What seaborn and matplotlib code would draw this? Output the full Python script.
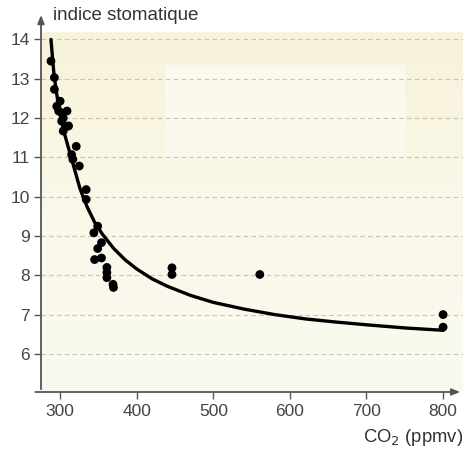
import numpy as np
import pandas as pd
import matplotlib
matplotlib.use("Agg")
import matplotlib.pyplot as plt
import seaborn as sns

# measured points (CO2 ppmv, stomatal index)
co2 = [288, 292.5, 292.5, 295.6, 300, 298, 302, 309, 304, 302, 309, 304, 311,
       321, 315, 316.6, 325, 334, 334, 349, 344, 354, 349, 354, 345,
       361, 361, 361, 369, 369.6, 446, 446, 560.7, 800, 800]
indice = [13.45, 13.03, 12.73, 12.30, 12.43, 12.18, 12.13, 12.18, 12.0, 11.92, 11.79, 11.67, 11.8,
          11.28, 11.07, 10.95, 10.78, 10.18, 9.93, 9.25, 9.08, 8.83, 8.68, 8.44, 8.40,
          8.2, 8.07, 7.94, 7.77, 7.69, 8.19, 8.02, 8.02, 7.0, 6.68]

# fitted curve
curve_x = [288, 292, 296, 300, 305, 310, 318, 326, 335, 345, 355, 370, 385, 400,
           420, 440, 470, 500, 540, 580, 620, 660, 700, 750, 800]
curve_y = [14.0, 13.1, 12.55, 12.1, 11.65, 11.3, 10.75, 10.2, 9.75, 9.35, 9.05, 8.68, 8.39, 8.16,
           7.91, 7.72, 7.49, 7.31, 7.14, 7.0, 6.89, 6.81, 6.74, 6.66, 6.6]

x_ticks = [300, 400, 500, 600, 700, 800]
y_ticks = [6, 7, 8, 9, 10, 11, 12, 13, 14]

pts = pd.DataFrame({"co2": co2, "indice": indice})
fit = pd.DataFrame({"co2": curve_x, "indice": curve_y})

sns.set_style("white")
plt.rcParams['font.family'] = ['Liberation Sans', 'DejaVu Sans']

fig = plt.figure(figsize=(4.66, 4.51), dpi=100)
ax = fig.add_axes([41 / 466, 59 / 451, 422 / 466, 360 / 451])
xmin, xmax = 275, 826
ymin, ymax = 5.03, 14.19
ax.set_xlim(xmin, xmax)
ax.set_ylim(ymin, ymax)

# cream gradient background (slightly darker at the top)
grad = np.linspace(0, 1, 100).reshape(-1, 1)
cmap = matplotlib.colors.LinearSegmentedColormap.from_list("cream", ["#f7f2da", "#faf8e9", "#fbfaf0"])
ax.imshow(grad, extent=[xmin, xmax, ymin, ymax], aspect="auto", cmap=cmap, zorder=0)
ax.add_patch(plt.Rectangle((437, 10.95), 313, 2.4, color="#fbf9ed", lw=0, zorder=0.5))

for yv in y_ticks:
    ax.axhline(yv, color="#c9c4b2", lw=0.8, dashes=(4, 3), zorder=1)

sns.lineplot(data=fit, x="co2", y="indice", color="black", lw=2.4, ax=ax, zorder=3)
sns.scatterplot(data=pts, x="co2", y="indice", color="black", s=40, edgecolor="none", ax=ax, zorder=4)

for s in ax.spines.values():
    s.set_visible(False)
ax.annotate("", xy=(0, 1.055), xytext=(0, 0), xycoords="axes fraction",
            arrowprops=dict(arrowstyle="-|>,head_length=0.5,head_width=0.2", color="#555555", lw=1.3),
            annotation_clip=False)
ax.annotate("", xy=(1.0, 0), xytext=(-0.02, 0), xycoords="axes fraction",
            arrowprops=dict(arrowstyle="-|>,head_length=0.5,head_width=0.2", color="#555555", lw=1.3),
            annotation_clip=False)

ax.set_xticks(x_ticks)
ax.set_yticks(y_ticks)
ax.tick_params(axis="both", direction="out", length=5, width=1, color="#555555",
               labelcolor="#444444", labelsize=12.5, left=True, bottom=True)
ax.tick_params(axis="y", pad=3)
ax.tick_params(axis="x", pad=4)
ax.set_xlabel("")
ax.set_ylabel("")
ax.grid(False)

fig.text(53 / 466, 1 - 15 / 451, "indice stomatique", fontsize=13.5, color="#333333",
         ha="left", va="center")
fig.text(463 / 466, 1 - 438 / 451, "CO$_2$ (ppmv)", fontsize=13.3, color="#333333",
         ha="right", va="center")

fig.savefig("out.png", dpi=100)
